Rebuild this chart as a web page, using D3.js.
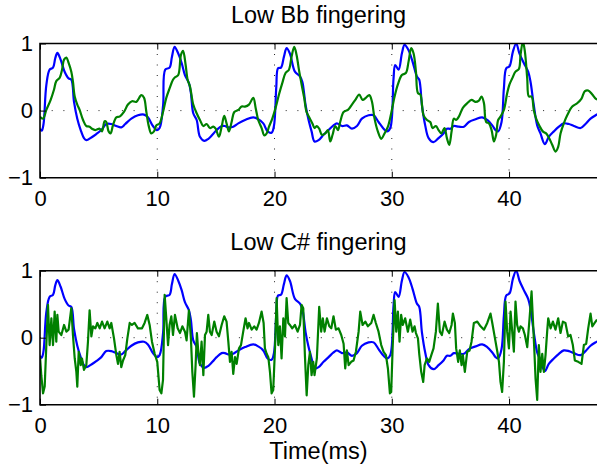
<!DOCTYPE html>
<html>
<head>
<meta charset="utf-8">
<script src="https://cdn.jsdelivr.net/npm/d3@7"></script>
<style>
  body { margin: 0; background: #fff; }
  svg text { font-family: "Liberation Sans", Arial, Helvetica, sans-serif; fill: #000; }
</style>
</head>
<body>
<div id="chart"></div>
<script>
const width = 597, height = 472;

const xTicks = [0, 10, 20, 30, 40];
const yTicks = [-1, 0, 1];
const titles = ["Low Bb fingering", "Low C# fingering"];
const xLabel = "Time(ms)";

// [time ms, amplitude]
const refTrace = [
  [0,-0.27],[0.15,-0.3],[0.3,-0.2],[0.54,0.38],[0.82,0.61],[1.11,0.64],[1.3,0.78],[1.48,0.86],[1.76,0.76],
  [2.1,0.58],[2.44,0.48],[2.67,0.46],[2.9,0.13],[3.18,-0.12],[3.47,-0.29],[3.75,-0.41],[3.95,-0.44],[4.38,-0.4],
  [4.8,-0.35],[5.23,-0.29],[5.65,-0.2],[6.08,-0.2],[6.51,-0.23],[6.93,-0.25],[7.27,-0.2],[7.79,-0.12],[8.35,-0.07],
  [8.87,-0.06],[9.2,-0.1],[9.63,-0.23],[9.97,-0.29],[10.2,-0.26],[10.5,0.08],[10.68,0.61],[11.05,0.64],[11.25,0.8],
  [11.48,0.95],[11.79,0.85],[12.08,0.71],[12.36,0.53],[12.7,0.41],[12.87,0.26],[13.07,-0.04],[13.36,-0.14],[13.64,-0.39],
  [14.01,-0.45],[14.36,-0.42],[14.7,-0.36],[15.06,-0.29],[15.49,-0.23],[15.77,-0.23],[16.06,-0.25],[16.48,-0.24],
  [16.91,-0.19],[17.48,-0.14],[18.19,-0.1],[18.61,-0.13],[19.04,-0.19],[19.41,-0.31],[19.75,-0.33],[19.95,-0.23],
  [20.15,0.35],[20.3,0.63],[20.55,0.64],[20.8,0.8],[21.03,0.93],[21.31,0.85],[21.74,0.58],[22.17,0.51],[22.37,0.43],
  [22.65,0.08],[22.88,-0.12],[23.16,-0.31],[23.41,-0.46],[23.76,-0.44],[24.18,-0.36],[24.61,-0.29],[25.03,-0.22],
  [25.32,-0.19],[25.75,-0.23],[26.17,-0.22],[26.6,-0.27],[27.03,-0.23],[27.45,-0.12],[28.02,-0.07],[28.45,-0.07],
  [28.87,-0.17],[29.3,-0.27],[29.59,-0.31],[29.87,-0.26],[30.15,0.48],[30.29,0.68],[30.58,0.61],[30.86,0.85],
  [31.09,0.98],[31.43,0.9],[31.77,0.73],[32.14,0.51],[32.34,0.46],[32.57,0.08],[32.85,-0.22],[33.14,-0.41],
  [33.56,-0.47],[33.99,-0.41],[34.41,-0.34],[34.7,-0.27],[35.0,-0.27],[35.29,-0.23],[35.72,-0.24],[36.15,-0.24],
  [36.58,-0.17],[37.14,-0.13],[37.71,-0.1],[38.14,-0.14],[38.57,-0.22],[38.85,-0.29],[39.07,-0.31],[39.36,-0.17],
  [39.56,0.33],[39.76,0.63],[40.04,0.66],[40.33,0.88],[40.61,1.0],[40.89,0.85],[41.26,0.71],[41.63,0.58],[41.83,0.43],
  [42.11,0.08],[42.4,-0.22],[42.68,-0.34],[43.05,-0.5],[43.39,-0.39],[43.82,-0.31],[44.25,-0.24],[44.67,-0.19],
  [45.1,-0.2],[45.53,-0.23],[46.1,-0.26],[46.52,-0.2],[46.95,-0.12],[47.38,-0.07],[47.6,-0.05]
];

const bbTrace = [
  [0,-0.09],[0.26,-0.12],[0.54,0.01],[0.91,0.16],[1.19,0.31],[1.39,0.44],[1.68,0.49],[1.88,0.61],[2.05,0.76],
  [2.25,0.79],[2.44,0.71],[2.67,0.58],[2.81,0.43],[2.96,0.21],[3.18,0.09],[3.38,0.01],[3.67,-0.14],[3.95,-0.23],
  [4.23,-0.24],[4.43,-0.27],[4.72,-0.29],[5.09,-0.27],[5.29,-0.31],[5.51,-0.16],[5.65,-0.17],[5.85,-0.31],[6.02,-0.34],
  [6.22,-0.22],[6.51,-0.1],[6.79,-0.09],[7.16,-0.02],[7.5,0.09],[7.84,0.14],[8.21,0.13],[8.64,0.23],[8.87,0.19],
  [9.07,-0.02],[9.26,-0.22],[9.49,-0.34],[9.72,-0.31],[9.92,-0.22],[10.2,-0.19],[10.49,-0.02],[10.77,0.19],
  [11.05,0.33],[11.34,0.46],[11.54,0.5],[11.79,0.53],[12.02,0.83],[12.2,0.89],[12.42,0.68],[12.59,0.46],[12.79,0.36],
  [13.07,0.09],[13.36,-0.04],[13.64,-0.14],[13.93,-0.23],[14.21,-0.2],[14.49,-0.26],[14.78,-0.24],[14.98,-0.27],
  [15.26,-0.39],[15.49,-0.24],[15.71,-0.08],[15.91,-0.19],[16.11,-0.31],[16.34,-0.17],[16.57,-0.02],[16.91,0.01],
  [17.19,0.06],[17.48,0.06],[17.82,0.09],[18.19,0.19],[18.39,0.04],[18.61,-0.14],[18.9,-0.26],[19.13,-0.37],
  [19.33,-0.34],[19.53,-0.24],[19.81,-0.12],[20.09,0.04],[20.38,0.24],[20.66,0.41],[20.94,0.56],[21.23,0.61],
  [21.45,0.8],[21.68,0.95],[21.88,0.83],[22.08,0.61],[22.31,0.39],[22.53,0.19],[22.73,-0.02],[23.02,-0.12],
  [23.25,-0.2],[23.41,-0.26],[23.61,-0.23],[23.81,-0.27],[24.04,-0.36],[24.33,-0.34],[24.55,-0.29],[24.75,-0.46],
  [24.95,-0.36],[25.18,-0.23],[25.41,-0.29],[25.6,-0.17],[25.89,-0.02],[26.26,0.01],[26.6,0.09],[26.89,0.16],
  [27.22,0.24],[27.51,0.16],[27.79,0.19],[28.08,0.23],[28.3,0.14],[28.53,-0.12],[28.81,-0.31],[29.1,-0.42],
  [29.38,-0.34],[29.67,-0.24],[29.95,-0.04],[30.24,0.21],[30.52,0.39],[30.86,0.53],[31.2,0.56],[31.43,0.73],
  [31.66,0.93],[31.86,0.85],[32.06,0.58],[32.23,0.26],[32.43,0.24],[32.71,-0.07],[33.0,-0.14],[33.28,-0.17],
  [33.48,-0.26],[33.76,-0.23],[33.99,-0.29],[34.22,-0.34],[34.5,-0.26],[34.7,-0.41],[34.9,-0.51],[35.1,-0.31],
  [35.29,-0.12],[35.49,-0.14],[35.72,-0.09],[36.06,0.04],[36.43,0.11],[36.8,0.16],[37.14,0.13],[37.43,0.15],
  [37.66,0.21],[37.86,0.11],[38.05,-0.17],[38.28,-0.19],[38.51,-0.29],[38.71,-0.46],[38.9,-0.36],[39.07,-0.14],
  [39.27,-0.09],[39.56,0.01],[39.84,0.26],[40.04,0.39],[40.27,0.48],[40.55,0.58],[40.84,0.62],[40.98,0.83],
  [41.18,1.03],[41.35,0.88],[41.55,0.48],[41.69,0.21],[41.92,0.21],[42.11,0.01],[42.31,-0.12],[42.6,-0.23],
  [42.88,-0.31],[43.16,-0.34],[43.39,-0.4],[43.68,-0.51],[43.96,-0.61],[44.19,-0.54],[44.39,-0.34],[44.67,-0.19],
  [44.96,-0.07],[45.39,0.06],[45.81,0.11],[46.18,0.18],[46.47,0.29],[46.75,0.3],[47.1,0.24],[47.38,0.18],[47.6,0.16]
];

const csTrace = [
  [0,-0.28],[0.11,-0.56],[0.26,-0.83],[0.4,-0.73],[0.54,-0.11],[0.68,0.49],[0.82,-0.11],[0.97,0.29],[1.11,-0.11],
  [1.25,0.39],[1.39,-0.06],[1.48,0.34],[1.59,0.09],[1.82,0.04],[2.05,0.19],[2.25,0.09],[2.44,0.12],[2.67,0.44],
  [2.81,0.04],[2.96,-0.31],[3.1,-0.51],[3.18,-0.73],[3.3,-0.21],[3.47,-0.41],[3.58,-0.31],[3.75,-0.48],[3.95,-0.41],
  [4.09,-0.06],[4.23,0.41],[4.38,0.02],[4.52,0.17],[4.72,0.14],[4.89,0.22],[5.09,0.14],[5.29,0.24],[5.51,0.14],
  [5.74,0.24],[5.94,0.14],[6.08,0.22],[6.31,-0.01],[6.51,-0.26],[6.65,-0.39],[6.79,-0.21],[6.93,-0.44],[7.08,-0.34],
  [7.27,-0.26],[7.45,-0.01],[7.65,0.22],[7.84,0.19],[8.07,0.22],[8.35,0.14],[8.7,0.14],[8.92,0.22],[9.15,0.34],
  [9.35,0.19],[9.55,-0.06],[9.78,-0.24],[10.0,-0.36],[10.2,-0.78],[10.35,-0.83],[10.49,-0.63],[10.63,0.64],
  [10.77,0.29],[10.92,-0.11],[11.05,0.19],[11.2,0.32],[11.34,0.04],[11.51,0.34],[11.74,0.14],[11.94,0.07],
  [12.14,0.17],[12.36,0.09],[12.5,-0.04],[12.7,0.41],[12.87,-0.01],[12.99,-0.51],[13.13,-0.88],[13.27,-0.41],
  [13.38,0.07],[13.5,-0.21],[13.64,-0.41],[13.78,-0.06],[13.93,-0.56],[14.07,0.04],[14.21,0.09],[14.35,0.34],
  [14.49,0.09],[14.64,0.04],[14.86,0.24],[15.06,0.09],[15.26,0.02],[15.49,0.19],[15.71,0.32],[15.91,0.24],
  [16.06,-0.06],[16.2,-0.36],[16.34,-0.21],[16.48,-0.54],[16.63,-0.29],[16.77,-0.39],[16.97,-0.16],[17.14,-0.11],
  [17.33,0.09],[17.53,0.29],[17.7,0.14],[17.82,0.22],[18.05,0.12],[18.27,0.17],[18.47,0.12],[18.67,0.22],[18.9,0.39],
  [19.07,0.22],[19.18,-0.16],[19.33,-0.24],[19.47,-0.29],[19.61,-0.51],[19.75,-0.83],[19.89,-0.78],[20.04,-0.16],
  [20.18,0.59],[20.32,-0.11],[20.46,0.17],[20.6,-0.31],[20.75,0.29],[20.89,0.02],[21.03,0.59],[21.17,0.22],
  [21.31,0.19],[21.51,0.14],[21.74,0.19],[21.97,0.09],[22.17,0.19],[22.31,0.49],[22.45,0.44],[22.59,-0.26],
  [22.74,-0.86],[22.88,-0.41],[23.02,-0.21],[23.16,-0.56],[23.3,-0.36],[23.41,-0.56],[23.61,-0.31],[23.81,0.46],
  [23.98,0.09],[24.12,0.29],[24.27,0.09],[24.47,0.29],[24.67,0.17],[24.84,0.14],[25.03,0.32],[25.23,0.12],
  [25.46,0.14],[25.69,0.04],[25.89,-0.09],[26.03,-0.46],[26.17,-0.19],[26.32,-0.41],[26.54,-0.36],[26.74,-0.34],
  [26.94,-0.21],[27.17,0.09],[27.31,0.39],[27.51,0.19],[27.74,0.24],[27.96,0.17],[28.25,0.22],[28.45,0.34],
  [28.64,0.22],[28.87,0.09],[29.1,-0.11],[29.3,-0.21],[29.5,-0.26],[29.67,-0.46],[29.84,-0.83],[29.95,-0.81],
  [30.07,-0.16],[30.24,0.56],[30.38,0.09],[30.52,0.39],[30.66,-0.06],[30.8,0.34],[30.94,0.19],[31.14,0.29],
  [31.37,0.09],[31.57,0.27],[31.77,0.09],[31.94,0.17],[32.06,0.07],[32.23,-0.01],[32.34,-0.24],[32.51,-0.51],
  [32.68,-0.66],[32.8,-0.41],[33.0,-0.31],[33.19,-0.36],[33.37,-0.26],[33.56,-0.16],[33.76,0.09],[33.93,0.51],
  [34.1,0.09],[34.27,0.04],[34.5,0.24],[34.7,0.12],[34.9,0.07],[35.1,0.19],[35.21,0.36],[35.38,0.22],[35.49,-0.16],
  [35.66,-0.36],[35.8,-0.19],[35.95,-0.41],[36.06,-0.26],[36.23,-0.51],[36.43,-0.21],[36.63,-0.19],[36.8,-0.06],
  [37.0,0.22],[37.29,0.24],[37.57,0.17],[37.86,0.12],[38.14,0.22],[38.42,0.36],[38.57,0.22],[38.8,-0.01],[39.0,-0.21],
  [39.14,-0.36],[39.27,-0.66],[39.41,-0.81],[39.56,-0.36],[39.7,0.54],[39.84,0.09],[39.99,-0.16],[40.13,0.39],
  [40.27,0.09],[40.41,-0.21],[40.55,0.54],[40.69,0.19],[40.84,0.09],[40.98,0.17],[41.18,0.14],[41.35,0.04],
  [41.55,-0.14],[41.75,0.29],[41.92,0.69],[42.03,0.29],[42.15,-0.16],[42.26,-0.61],[42.4,-0.93],[42.54,-0.11],
  [42.68,-0.51],[42.83,-0.24],[42.97,-0.51],[43.11,-0.26],[43.25,0.09],[43.34,0.29],[43.54,0.14],[43.74,0.24],
  [43.96,0.12],[44.19,0.29],[44.39,0.07],[44.59,0.24],[44.81,0.22],[45.04,0.02],[45.24,0.04],[45.44,-0.11],
  [45.61,-0.34],[45.9,-0.36],[46.18,-0.39],[46.38,-0.11],[46.58,-0.09],[46.75,0.14],[46.95,0.36],[47.1,0.17],
  [47.3,0.22],[47.5,0.27]
];

const panels = [
  { title: titles[0], top: 43.5, bottom: 177.7, green: bbTrace, smooth: true },
  { title: titles[1], top: 270.7, bottom: 404.7, green: csTrace, smooth: false }
];

const svg = d3.select("#chart")
  .append("svg")
    .attr("width", width)
    .attr("height", height);

const x = d3.scaleLinear()
  .domain([0, 47.5])
  .range([40, 597]);

panels.forEach((p, i) => {
  const y = d3.scaleLinear()
    .domain([-1, 1])
    .range([p.bottom, p.top]);

  const g = svg.append("g");

  g.append("clipPath")
    .attr("id", "clip" + i)
    .append("rect")
      .attr("x", 40)
      .attr("y", p.top)
      .attr("width", 560)
      .attr("height", p.bottom - p.top);

  // dotted grid
  g.selectAll("line.vgrid")
    .data(xTicks.filter(d => d > 0))
    .join("line")
      .attr("class", "vgrid")
      .attr("x1", d => x(d)).attr("x2", d => x(d))
      .attr("y1", p.top).attr("y2", p.bottom)
      .attr("stroke", "#222")
      .attr("stroke-width", 1)
      .attr("stroke-dasharray", "1,9.5");

  g.selectAll("line.hgrid")
    .data(yTicks.filter(d => d === 0))
    .join("line")
      .attr("class", "hgrid")
      .attr("x1", 40).attr("x2", 597)
      .attr("y1", d => y(d)).attr("y2", d => y(d))
      .attr("stroke", "#222")
      .attr("stroke-width", 1)
      .attr("stroke-dasharray", "1,10.7");

  const lineSmooth = d3.line()
    .x(d => x(d[0]))
    .y(d => y(d[1]))
    .curve(d3.curveCatmullRom.alpha(0.5));

  const lineSharp = d3.line()
    .x(d => x(d[0]))
    .y(d => y(d[1]));

  const plot = g.append("g").attr("clip-path", `url(#clip${i})`);

  plot.append("path")
    .datum(refTrace)
    .attr("fill", "none")
    .attr("stroke", "#0000ff")
    .attr("stroke-width", 2.2)
    .attr("stroke-linejoin", "round")
    .attr("d", lineSmooth);

  plot.append("path")
    .datum(p.green)
    .attr("fill", "none")
    .attr("stroke", "#008000")
    .attr("stroke-width", 2.2)
    .attr("stroke-linejoin", "round")
    .attr("d", p.smooth ? lineSmooth : lineSharp);

  // axes (ticks point inward like MATLAB)
  const xAxis = g.append("g")
    .attr("transform", `translate(0,${p.bottom})`)
    .call(d3.axisBottom(x).tickValues(xTicks).tickSize(-6).tickPadding(13).tickFormat(d3.format("d")));

  const xTop = g.append("g")
    .attr("transform", `translate(0,${p.top})`)
    .call(d3.axisTop(x).tickValues(xTicks).tickSize(-6).tickFormat(""));

  const yAxis = g.append("g")
    .attr("transform", "translate(40,0)")
    .call(d3.axisLeft(y).tickValues(yTicks).tickSize(-6).tickPadding(7).tickFormat(d3.format("d")));

  [xAxis, xTop, yAxis].forEach(a => {
    a.select(".domain").remove();
    a.selectAll(".tick line").attr("stroke", "#000").attr("stroke-width", 1);
    a.selectAll(".tick text")
      .attr("font-size", 22)
      .attr("font-family", "Liberation Sans, Arial, Helvetica, sans-serif")
      .attr("fill", "#000");
  });

  // box (right edge falls just outside the picture)
  g.append("path")
    .attr("d", `M600,${p.top}H40V${p.bottom}H600`)
    .attr("fill", "none")
    .attr("stroke", "#000")
    .attr("stroke-width", 1.6);

  svg.append("text")
    .attr("x", 318.5)
    .attr("y", p.top - 21)
    .attr("text-anchor", "middle")
    .attr("font-size", 23.5)
    .text(p.title);
});

svg.append("text")
  .attr("x", 318.5)
  .attr("y", 459)
  .attr("text-anchor", "middle")
  .attr("font-size", 23.5)
  .text(xLabel);
</script>
</body>
</html>
